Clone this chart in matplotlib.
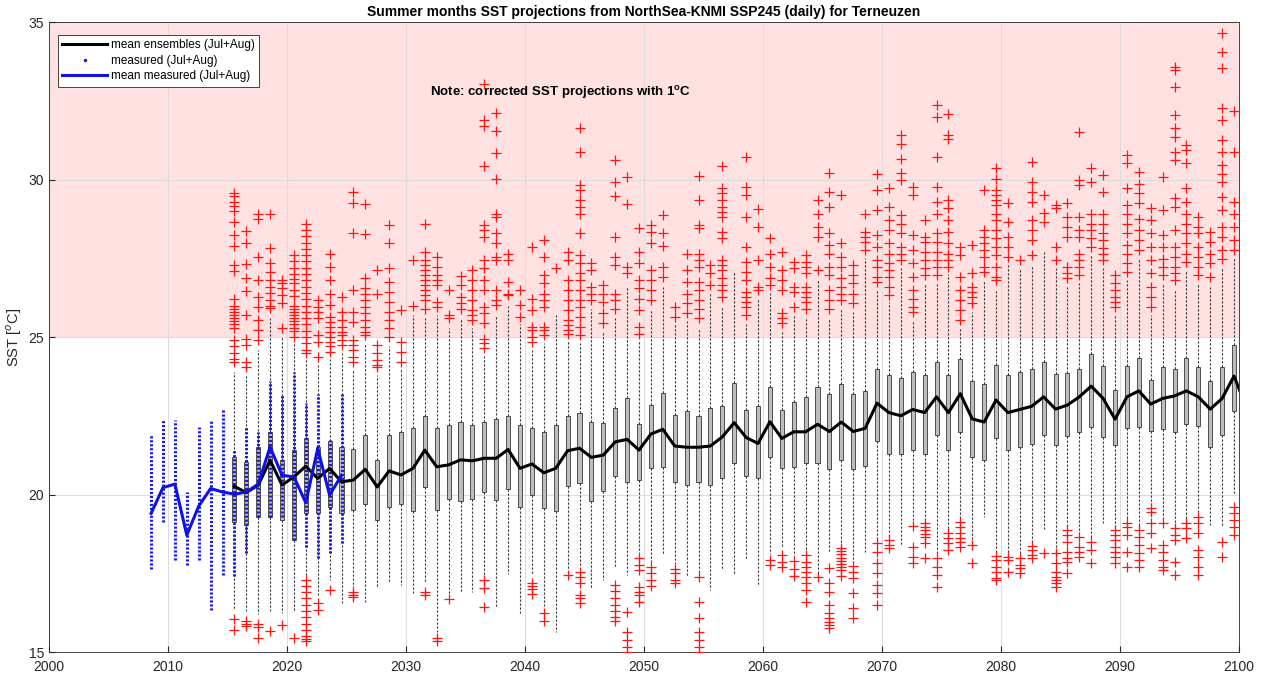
#!/usr/bin/env python3
"""Summer SST projections (NorthSea-KNMI SSP245) for Terneuzen: boxplots per year."""
import numpy as np
import matplotlib
matplotlib.use("Agg")
import matplotlib.pyplot as plt
from matplotlib.lines import Line2D

plt.rcParams["font.family"] = ["Liberation Sans", "DejaVu Sans"]
plt.rcParams["mathtext.fontset"] = "custom"
plt.rcParams["mathtext.rm"] = "Liberation Sans"
plt.rcParams["mathtext.bf"] = "Liberation Sans:bold"

# ---- projections (ensemble, Jul+Aug), one box per year 2015..2099 ----
box_years = list(range(2015, 2100))

q1 = [19.13, 19.03, 19.29, 19.29, 19.19, 18.55, 19.40, 19.40, 19.60, 19.40,
      19.50, 19.71, 19.19, 19.60, 19.71, 19.49, 20.25, 19.51, 19.86, 19.80,
      19.86, 20.09, 19.83, 20.17, 19.59, 19.98, 19.56, 19.49, 20.27, 20.37,
      19.78, 20.11, 20.59, 20.41, 20.46, 20.83, 20.88, 20.40, 20.30, 20.41,
      20.30, 20.51, 21.00, 20.59, 20.51, 21.20, 20.83, 20.88, 20.99, 21.00,
      20.80, 21.10, 20.80, 20.90, 21.70, 21.30, 21.30, 21.40, 21.30, 21.90,
      21.40, 22.00, 21.20, 21.10, 21.80, 21.40, 21.50, 21.60, 21.90, 21.57,
      21.86, 21.99, 22.13, 21.84, 21.57, 22.10, 22.13, 22.03, 22.07, 21.99,
      22.24, 22.17, 21.50, 21.89, 22.66]
q3 = [21.20, 21.04, 21.51, 22.00, 21.09, 21.41, 21.78, 21.51, 21.70, 21.51,
      21.46, 21.88, 21.09, 21.90, 22.00, 22.10, 22.50, 22.10, 22.20, 22.30,
      22.20, 22.30, 22.40, 22.50, 22.20, 22.10, 22.00, 22.20, 22.50, 22.60,
      22.30, 22.28, 22.74, 23.05, 22.23, 22.84, 23.21, 22.52, 22.66, 22.49,
      22.74, 22.80, 23.53, 22.68, 22.80, 23.40, 22.68, 22.95, 23.10, 23.40,
      23.20, 23.50, 23.20, 23.30, 24.00, 23.80, 23.70, 23.90, 23.80, 24.20,
      23.80, 24.30, 23.60, 23.50, 24.10, 23.80, 23.90, 24.00, 24.20, 23.83,
      23.85, 24.00, 24.46, 24.08, 23.32, 24.08, 24.32, 23.63, 24.06, 24.00,
      24.32, 24.04, 23.61, 24.06, 24.75]
whis_lo = [16.33, 16.30, 16.20, 16.30, 16.25, 16.30, 17.39, 16.75, 17.28, 16.54,
           17.07, 16.60, 17.07, 17.20, 17.13, 16.86, 17.20, 15.65, 16.80, 16.86,
           16.92, 17.45, 16.44, 17.49, 16.23, 17.45, 16.45, 15.64, 17.60, 17.70,
           17.02, 17.29, 17.71, 17.44, 18.15, 17.85, 18.08, 17.80, 17.39, 17.50,
           16.97, 17.60, 17.44, 17.92, 17.13, 18.10, 18.30, 18.05, 18.19, 17.50,
           18.13, 18.40, 17.80, 18.19, 18.50, 18.66, 18.36, 19.08, 19.19, 18.08,
           18.87, 19.19, 18.50, 19.30, 18.13, 18.13, 18.08, 18.45, 18.92, 18.24,
           18.97, 18.77, 18.61, 19.08, 18.92, 19.19, 18.92, 19.67, 19.13, 18.97,
           19.13, 19.35, 19.03, 18.97, 19.98]
whis_hi = [23.9, 23.8, 24.6, 25.6, 25.0, 24.8, 24.3, 24.1, 24.3, 24.5,
           24.0, 24.8, 23.8, 24.7, 24.0, 25.7, 25.6, 25.7, 25.3, 25.6,
           25.3, 24.4, 25.7, 26.0, 25.4, 24.6, 24.8, 25.7, 24.9, 24.8,
           25.9, 25.2, 25.6, 26.6, 24.9, 25.9, 26.6, 25.4, 25.5, 25.3,
           26.4, 26.0, 27.1, 25.4, 26.2, 26.4, 25.2, 25.7, 25.6, 26.8,
           25.6, 25.9, 25.8, 27.5, 26.5, 26.1, 27.2, 25.5, 26.7, 26.7,
           27.0, 25.3, 25.8, 26.8, 26.5, 27.3, 27.2, 27.3, 27.7, 27.2,
           26.6, 26.7, 27.6, 27.2, 25.7, 26.8, 27.5, 25.7, 26.7, 26.5,
           27.1, 26.7, 26.6, 27.2, 27.5]

# outliers above the upper whisker, per year
fliers_hi = [
    [29.57, 29.47, 29.29, 29.15, 29.0, 28.66, 28.23, 27.9, 27.28, 27.1, 26.2, 26.0, 25.9, 25.8, 25.7, 25.6, 25.5, 25.4, 25.3, 24.9, 24.7, 24.5, 24.3, 24.2],  # 2015
    [28.37, 27.99, 27.31, 26.86, 26.47, 25.7, 24.95, 24.74, 24.21, 24.05],
    [28.9, 28.76, 27.53, 26.8, 26.26, 25.96, 25.54, 25.22, 24.9],
    [28.9, 27.81, 27.36, 27.07, 26.8, 26.6, 26.4, 26.17, 26.0, 25.93],
    [26.8, 26.7, 26.54, 26.33, 26.07, 25.27],
    [27.6, 27.4, 27.2, 27.0, 26.85, 26.7, 26.5, 26.3, 26.0, 25.9, 25.8, 25.7, 25.6, 25.5, 25.4, 25.3, 25.2, 25.0],  # 2020
    [28.6, 28.4, 28.2, 28.0, 27.8, 27.6, 27.4, 27.2, 27.0, 26.8, 26.6, 26.4, 26.2, 26.0, 25.8, 25.6, 25.4, 25.2, 25.0, 24.8, 24.6, 24.5],
    [26.17, 25.96, 25.8, 25.59, 25.06, 24.85, 24.37],
    [27.63, 27.21, 26.8, 26.38, 26.01, 25.64, 25.48, 25.32, 25.17, 25.0, 24.85, 24.7, 24.53],
    [26.28, 25.8, 25.54, 25.32, 25.17, 25.06, 24.9, 24.74],
    [29.61, 29.26, 28.31, 26.49, 25.8, 25.48, 24.9, 24.74, 24.58, 24.37, 24.21],  # 2025
    [29.22, 28.27, 26.86, 26.54, 26.38, 26.17, 25.96, 25.75, 25.54, 25.32, 25.17, 25.06],
    [27.12, 26.38, 24.74, 24.48, 24.27, 24.1, 24.05],
    [28.55, 27.99, 27.18, 26.75, 26.43, 26.12, 25.8, 25.54, 25.27, 25.0],
    [25.85, 24.85, 24.53, 24.21],
    [27.46, 25.98],  # 2030
    [28.6, 27.7, 27.44, 27.28, 27.12, 26.96, 26.8, 26.65, 26.49, 26.33, 26.17, 25.9],
    [27.55, 27.23, 26.96, 26.8, 26.65, 26.12, 25.96],
    [26.49, 25.7, 25.6],
    [26.93, 26.65, 26.26, 26.07, 25.9],
    [27.12, 26.8, 26.49, 26.17, 25.85, 25.7, 25.54],  # 2035
    [33.03, 31.89, 31.7, 30.42, 28.55, 28.39, 28.18, 27.44, 27.18, 26.8, 26.49, 25.96, 25.75, 25.43, 24.95, 24.8, 24.64],
    [32.12, 31.55, 30.83, 30.03, 28.92, 28.82, 28.29, 27.97, 27.55, 27.44, 26.49, 26.17, 26.01],
    [27.65, 27.44, 26.75, 26.38, 26.33],
    [26.49, 26.01, 25.64],
    [27.86, 26.22, 25.85, 25.32, 25.22, 25.0, 24.85],  # 2040
    [28.08, 27.55, 26.96, 26.7, 26.38, 26.17, 25.96, 25.32, 25.22, 25.06],
    [27.18],
    [27.7, 27.44, 26.8, 26.49, 26.17, 25.85, 25.54, 25.38, 25.22, 25.11],
    [31.62, 30.88, 29.82, 29.66, 29.35, 29.13, 28.92, 28.29, 27.6, 27.34, 27.02, 26.8, 26.49, 26.17, 25.96, 25.64, 25.32, 25.06],
    [27.34, 27.12, 26.59, 26.38, 26.17],  # 2045
    [26.65, 26.38, 26.12, 25.75, 25.43],
    [30.62, 29.93, 29.47, 28.18, 27.55, 27.28, 26.38, 26.17, 25.9],
    [30.09, 29.22, 27.23, 27.02],
    [28.45, 27.7, 27.34, 26.8, 26.54, 26.22, 25.85, 25.32, 25.11],
    [28.55, 28.34, 27.97, 27.12, 26.8, 26.49, 26.17],  # 2050
    [28.87, 28.31, 27.89, 27.23, 26.91],
    [25.96, 25.64],
    [27.65, 27.12, 26.75, 26.38, 26.07, 25.75],
    [30.11, 29.35, 28.55, 28.45, 27.65, 27.44, 27.23, 26.75, 26.49, 26.17, 25.9, 25.59],
    [27.28, 27.02, 26.65],  # 2055
    [30.42, 29.72, 29.56, 29.35, 29.13, 28.97, 28.82, 28.34, 28.13, 27.44, 27.28, 27.12, 26.86, 26.65, 26.49, 26.28],
    [],
    [30.7, 29.77, 29.5, 28.82, 27.86, 27.39, 27.07, 26.8, 26.44, 26.28, 26.12, 25.96, 25.7],
    [29.05, 28.5, 27.44, 26.59, 26.49],
    [28.13, 27.65, 27.23, 26.86, 26.65],  # 2060
    [27.7, 27.12, 26.8, 26.49, 25.75, 25.59, 25.43],
    [27.39, 27.18, 26.59, 26.44, 25.96],
    [27.6, 27.39, 27.23, 27.02, 26.59, 26.44, 26.28, 26.12, 25.9],
    [29.35, 28.92, 28.5, 28.18, 27.12],
    [30.2, 29.61, 29.13, 28.29, 27.92, 27.65, 27.23, 26.96, 26.49, 26.17, 25.9],  # 2065
    [29.5, 27.97, 27.55, 27.23, 26.86, 26.59, 26.38, 26.17],
    [27.28, 26.96, 26.7, 26.38, 26.07],
    [28.92, 28.34, 28.18, 28.02, 27.76],
    [30.17, 29.66, 29.03, 28.24, 27.86, 27.44, 27.23, 26.91, 26.75],
    [29.72, 29.13, 28.71, 28.39, 27.97, 27.65, 27.34, 27.12, 26.91, 26.59, 26.33],  # 2070
    [31.41, 31.14, 30.64, 30.2, 29.98, 28.87, 28.6, 28.29, 27.86, 27.65, 27.44],
    [29.77, 29.5, 28.24, 27.76, 27.34, 26.91, 26.49, 26.22, 25.96, 25.8],
    [28.71, 28.18, 28.02, 27.7, 27.44, 27.18, 26.96],
    [32.36, 31.97, 30.7, 29.77, 29.29, 28.92, 28.29, 28.02, 27.7, 27.44, 27.23, 26.96],
    [32.08, 31.41, 31.3, 29.35, 29.08, 28.71, 28.34, 27.97, 27.65, 27.44, 27.23],  # 2075
    [27.86, 27.6, 26.91, 26.49, 26.17, 25.85, 25.54],
    [27.92, 27.02, 26.59, 26.44, 26.28, 26.07],
    [29.68, 28.39, 28.18, 27.97, 27.76, 27.55, 27.23, 27.07],
    [30.35, 30.03, 29.66, 29.5, 29.35, 29.19, 28.92, 28.71, 28.39, 28.13, 27.86, 27.6, 27.23, 26.91, 26.81],
    [29.26, 28.66, 28.18, 27.86, 27.55],  # 2080
    [27.46],
    [30.56, 29.93, 29.61, 29.29, 28.71, 28.39, 28.08, 27.6],
    [29.5, 28.94, 28.66],
    [29.19, 29.08, 27.86, 27.44],
    [29.24, 28.82, 28.5, 28.18, 27.23, 27.02, 26.86],  # 2085
    [31.51, 29.98, 29.82, 28.82, 28.39, 28.18, 27.65, 27.44, 27.23, 26.96],
    [30.35, 29.93, 28.92, 28.6, 28.39, 28.13, 27.86],
    [30.14, 29.61, 28.92, 28.6, 28.29, 28.08, 27.81, 27.65, 27.44],
    [26.96, 26.7, 26.49, 26.28, 26.12, 25.96],
    [30.77, 30.51, 29.72, 29.19, 28.92, 28.6, 28.29, 27.92, 27.65, 27.34, 27.07],  # 2090
    [30.25, 29.87, 29.56, 29.24, 28.76, 28.39, 28.08, 27.76],
    [29.08, 28.71, 28.29, 27.86, 27.44, 27.02, 26.6, 26.28, 25.96],
    [30.09, 29.03, 28.23, 27.86, 27.49, 27.23, 26.96],
    [33.58, 33.47, 32.94, 32.04, 31.62, 31.36, 30.88, 30.62, 29.4, 29.14, 28.39, 27.86, 27.55, 27.23, 27.02, 26.81],
    [31.09, 30.93, 30.51, 29.72, 29.29, 28.92, 28.6, 28.29, 27.97, 27.65, 27.39],  # 2095
    [28.82, 28.5, 28.29, 27.86, 27.55, 27.23, 26.96],
    [28.34, 28.02, 27.65, 27.34, 26.91],
    [34.64, 34.05, 33.53, 32.26, 31.89, 31.25, 30.88, 30.46, 30.19, 29.93, 29.45, 29.03, 28.5, 28.18, 27.76, 27.49],
    [32.18, 30.88, 29.29, 28.92, 28.5, 28.08, 27.76],
]

# outliers below the lower whisker, per year
fliers_lo = [
    [16.06, 15.7], [16.0, 15.9, 15.82], [15.9, 15.8, 15.46], [15.67], [15.85],  # 2015-2019
    [15.46],
    [17.28, 17.1, 16.9, 16.7, 16.5, 16.3, 16.1, 15.9, 15.7, 15.5, 15.4, 15.35],
    [16.54, 16.33], [16.96], [],
    [16.91, 16.8, 16.75], [], [], [], [],  # 2025-2029
    [], [16.9, 16.8], [15.45, 15.35], [16.68], [],  # 2030-2034
    [], [17.29, 17.02, 16.44], [], [], [],  # 2035-2039
    [17.2, 17.1, 17.0, 16.85], [16.23, 16.0], [], [17.44],
    [17.55, 17.39, 17.18, 16.81, 16.7, 16.55],  # 2044
    [], [],
    [17.13, 16.95, 16.7, 16.5, 16.3, 16.1, 16.0],  # 2047
    [16.28, 15.64, 15.38, 15.17, 15.01],
    [17.98, 17.75, 17.6, 17.07, 16.9, 16.8, 16.6],
    [17.7, 17.5, 17.3, 17.1],  # 2050
    [], [17.65, 17.5, 17.3, 17.2], [],
    [17.39, 16.6, 16.07, 15.64, 15.38, 15.17, 15.01],  # 2054
    [], [], [], [], [],  # 2055-2059
    [17.92, 17.76], [18.08, 17.87, 17.71], [17.9, 17.65, 17.4],
    [18.08, 17.87, 17.71, 17.55, 17.39, 17.18, 16.97, 16.6],  # 2063
    [17.39],
    [17.66, 17.18, 16.92, 16.49, 16.23, 16.07, 15.96, 15.86, 15.75],  # 2065
    [18.29, 18.2, 18.1, 18.0, 17.9, 17.8, 17.7, 17.6, 17.4],
    [17.73, 17.55, 17.34, 16.86, 16.39, 16.07],
    [],
    [18.45, 18.19, 17.81, 17.5, 17.13, 16.86, 16.49],
    [18.56, 18.4, 18.29],  # 2070
    [],
    [19.0, 18.34, 18.03, 17.81],
    [19.08, 18.97, 18.87, 18.76, 18.66, 18.45, 17.97],
    [17.97, 17.71, 17.44, 17.07],
    [18.77, 18.61, 18.45, 18.24],  # 2075
    [19.14, 18.98, 18.77, 18.61, 18.5, 18.34],
    [18.4, 17.81],
    [],
    [18.05, 17.92, 17.71, 17.55, 17.34, 17.28],
    [18.03, 17.92, 17.55],  # 2080
    [17.97, 17.76, 17.66, 17.5],
    [18.36, 18.24, 18.08, 17.97],
    [18.15],
    [18.13, 17.81, 17.55, 17.39, 17.28, 17.18, 17.07],
    [18.87, 18.71, 18.5, 18.19, 17.97, 17.87, 17.5],  # 2085
    [18.66, 18.34, 18.19, 18.03],
    [18.5, 18.24, 17.81],
    [],
    [18.87, 18.71, 18.56, 18.34, 18.19, 18.03, 17.81],
    [19.08, 18.98, 18.71, 18.19, 17.71],  # 2090
    [18.87, 18.66, 18.4, 18.13, 17.92, 17.71],
    [19.56, 19.45, 19.08, 18.77, 18.29],
    [19.08, 18.4, 18.19, 17.92, 17.71, 17.6],
    [18.93, 18.71, 18.56, 17.87, 17.44],
    [19.08, 18.93, 18.61],  # 2095
    [19.3, 19.08, 18.77, 18.24, 18.03, 17.71, 17.44],
    [],
    [18.5, 18.03],
    [19.61, 19.4, 19.19, 18.98, 18.71],
]

# ensemble mean per year (2100 point lies just outside the axis)
mean_years = list(range(2015, 2101))
ens_mean = [20.26, 20.06, 20.30, 21.09, 20.30, 20.56, 20.90, 20.51, 20.83, 20.40,
            20.46, 20.80, 20.24, 20.75, 20.62, 20.83, 21.41, 20.88, 20.94, 21.10,
            21.07, 21.15, 21.15, 21.43, 20.83, 20.97, 20.69, 20.83, 21.39, 21.47,
            21.18, 21.25, 21.67, 21.75, 21.41, 21.92, 22.07, 21.54, 21.50, 21.50,
            21.54, 21.83, 22.28, 21.81, 21.62, 22.31, 21.78, 21.99, 21.99, 22.23,
            22.00, 22.30, 22.00, 22.10, 22.90, 22.60, 22.50, 22.70, 22.60, 23.10,
            22.60, 23.20, 22.40, 22.30, 23.00, 22.60, 22.70, 22.80, 23.10, 22.71,
            22.84, 23.10, 23.44, 23.05, 22.39, 23.10, 23.29, 22.87, 23.05, 23.13,
            23.29, 23.10, 22.71, 23.05, 23.76, 22.80]

# ---- measured (Jul+Aug) ----
meas_years = list(range(2008, 2025))
meas_mean = [19.40, 20.22, 20.33, 18.71, 19.63, 20.19, 20.08, 20.01, 20.08, 20.33,
             21.51, 20.61, 20.56, 19.74, 21.46, 19.98, 20.61]
meas_max = [21.88, 22.36, 22.36, 20.09, 22.15, 22.36, 22.73, 21.40, 22.15, 22.00,
            23.60, 23.20, 23.90, 22.90, 23.20, 21.73, 23.20]
meas_min = [17.65, 19.13, 17.92, 17.76, 17.92, 16.33, 17.44, 17.40, 18.13, 19.30,
            19.29, 19.30, 18.55, 18.34, 17.97, 18.13, 18.45]

OFFSET = 0.58  # Jul+Aug centre as decimal year
RED = "#ff1414"

fig = plt.figure(figsize=(12.66, 6.73), dpi=100)
ax = fig.add_axes([0.0387, 0.0312, 0.94, 0.9361])

ax.axhspan(25, 35, color="#ffe1e1", lw=0, zorder=0)

stats = []
for i, yr in enumerate(box_years):
    stats.append({"med": (q1[i] + q3[i]) / 2, "q1": q1[i], "q3": q3[i],
                  "whislo": whis_lo[i], "whishi": whis_hi[i], "fliers": []})
pos = np.array(box_years) + OFFSET
ax.bxp(stats, positions=pos, widths=0.34, patch_artist=True, showcaps=False,
       showfliers=False, manage_ticks=False,
       boxprops=dict(facecolor="#bdbdbd", edgecolor="#4d4d4d", lw=0.7),
       whiskerprops=dict(color="#333333", lw=0.8, linestyle=(0, (2, 1.6))),
       medianprops=dict(lw=0), zorder=3)

# outliers drawn as red '+'
for i, p in enumerate(pos):
    vals = fliers_hi[i] + fliers_lo[i]
    if vals:
        ax.plot([p] * len(vals), vals, ls="none", marker="+", ms=6.5, mew=0.9,
                color=RED, zorder=3.5)

ax.vlines(np.array(meas_years) + OFFSET, meas_min, meas_max, colors="#1a1aee",
          linestyles=(0, (0.7, 0.6)), lw=2.2, zorder=4)
ax.plot(np.array(mean_years) + OFFSET, ens_mean, color="black", lw=2.2, zorder=5)
ax.plot(np.array(meas_years) + OFFSET, meas_mean, color="#1010e8", lw=2.2, zorder=6)

ax.set_xlim(2000, 2100)
ax.set_ylim(15, 35)
ax.set_xticks(range(2000, 2101, 10))
ax.set_xticklabels([str(v) for v in range(2000, 2101, 10)])
ax.set_yticks(range(15, 36, 5))
ax.tick_params(direction="in", length=4, labelsize=10, colors="#262626")
ax.tick_params(axis="x", pad=6)
ax.grid(True, color="#dcdcdc", lw=0.8)
ax.set_axisbelow(True)
for s in ax.spines.values():
    s.set_color("#262626")
    s.set_linewidth(0.6)

ax.set_ylabel("SST [$^{o}$C]", fontsize=10.5, color="#262626", labelpad=3)
ax.set_title("Summer months SST projections from NorthSea-KNMI SSP245 (daily) for Terneuzen",
             fontsize=10, fontweight="bold", pad=4)
ax.text(2032.0, 32.75, "Note: corrected SST projections with 1$^{\\mathbf{o}}$C",
        fontsize=9.5, fontweight="bold", va="center", ha="left")

handles = [Line2D([], [], color="black", lw=2.2),
           Line2D([], [], color="#1a1aee", marker=".", ms=3, ls="none"),
           Line2D([], [], color="#1010e8", lw=2.2)]
labels = ["mean ensembles (Jul+Aug)", "measured (Jul+Aug)", "mean measured (Jul+Aug)"]
leg = ax.legend(handles, labels, loc="upper left", bbox_to_anchor=(0.0076, 0.979),
                fontsize=8.5, fancybox=False, framealpha=1, edgecolor="#262626",
                borderpad=0.35, labelspacing=0.3, handlelength=3.8, handletextpad=0.3,
                borderaxespad=0)
leg.get_frame().set_linewidth(0.6)

fig.savefig("out.png", dpi=100)
